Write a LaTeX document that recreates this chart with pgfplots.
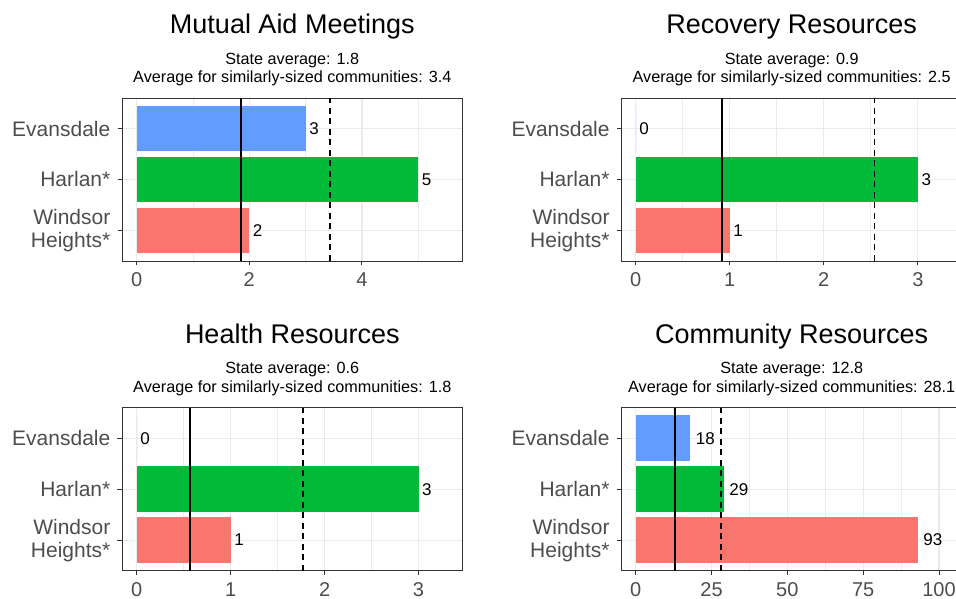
\documentclass[border=0pt]{standalone}
\usepackage{fontspec}
\setmainfont{Liberation Sans}
\usepackage{pgfplots}
\pgfplotsset{compat=1.18}
\definecolor{evc}{HTML}{619CFF}
\definecolor{hac}{HTML}{00BA38}
\definecolor{wic}{HTML}{F8766D}
\definecolor{grey30}{HTML}{4D4D4D}
\definecolor{grey20}{HTML}{333333}
\definecolor{gridc}{HTML}{EBEBEB}
\pgfplotsset{
  panel/.style={
    scale only axis, width=340.7pt, height=163pt,
    ymin=0.4, ymax=3.6, ytick={1,2,3},
    yticklabels={{Windsor\\Heights*},{Harlan*},{Evansdale}},
    tick pos=left, tick align=outside,
    major tick length=4.5pt, minor tick length=0pt,
    tick style={grey20, line width=0.9pt},
    axis line style={grey20, line width=0.9pt},
    xmajorgrids, ymajorgrids, xminorgrids,
    major grid style={gridc, line width=1.2pt},
    minor grid style={gridc, line width=0.7pt},
    /pgf/number format/assume math mode=true,
    xticklabel style={font=\fontsize{20}{24}\selectfont, text=grey30, inner sep=0pt, yshift=-7pt},
    yticklabel style={font=\fontsize{21}{23}\selectfont, text=grey30, align=right, inner sep=0pt, xshift=-7pt},
  },
  barp/.style={xbar, bar width=0.9, bar shift=0pt, draw=none, fill=#1,
    nodes near coords, point meta=x,
    every node near coord/.style={font=\fontsize{17}{20}\selectfont, text=black, anchor=west, inner sep=0pt, xshift=\lblshift}},
  avgline/.style={black, line width=1.8pt, no marks, forget plot},
  simline/.style={black, line width=1.8pt, no marks, forget plot, dash pattern=on 6pt off 4.5pt},
}
\newcommand{\lblshift}{3.5pt}
\begin{document}
\begin{tikzpicture}
\useasboundingbox (0,0) rectangle (956pt,599pt);
% Panel 1
\begin{axis}[panel, at={(122pt,338pt)}, anchor=south west,
  xmin=-0.26, xmax=5.79, xtick={0,2,4}, minor xtick={1,3,5}]
\addplot[barp=evc] coordinates {(3,3)};
\addplot[barp=hac] coordinates {(5,2)};
\addplot[barp=wic] coordinates {(2,1)};
\addplot[avgline] coordinates {(1.85,0.4) (1.85,3.6)};
\addplot[simline] coordinates {(3.43,0.4) (3.43,3.6)};
\end{axis}
% Panel 2
\begin{axis}[panel, at={(621.3pt,338pt)}, anchor=south west,
  xmin=-0.153, xmax=3.47, xtick={0,1,2,3}, minor xtick={0.5,1.5,2.5}]
\addplot[barp=evc] coordinates {(0,3)};
\addplot[barp=hac] coordinates {(3,2)};
\addplot[barp=wic] coordinates {(1,1)};
\addplot[avgline] coordinates {(0.92,0.4) (0.92,3.6)};
\addplot[simline] coordinates {(2.54,0.4) (2.54,3.6)};
\end{axis}
% Panel 3
\begin{axis}[panel, at={(122pt,28.3pt)}, anchor=south west,
  xmin=-0.156, xmax=3.47, xtick={0,1,2,3}, minor xtick={0.5,1.5,2.5}]
\addplot[barp=evc] coordinates {(0,3)};
\addplot[barp=hac] coordinates {(3,2)};
\addplot[barp=wic] coordinates {(1,1)};
\addplot[avgline] coordinates {(0.567,0.4) (0.567,3.6)};
\addplot[simline] coordinates {(1.77,0.4) (1.77,3.6)};
\end{axis}
% Panel 4
\renewcommand{\lblshift}{5.5pt}
\begin{axis}[panel, at={(621.3pt,28.3pt)}, anchor=south west,
  xmin=-4.75, xmax=107.6, xtick={0,25,50,75,100}, minor xtick={12.5,37.5,62.5,87.5}]
\addplot[barp=evc] coordinates {(18,3)};
\addplot[barp=hac] coordinates {(29,2)};
\addplot[barp=wic] coordinates {(93,1)};
\addplot[avgline] coordinates {(13.06,0.4) (13.06,3.6)};
\addplot[simline] coordinates {(28.2,0.4) (28.2,3.6)};
\end{axis}
% Titles
\tikzset{ttl/.style={anchor=base, inner sep=0pt, font=\fontsize{27}{32}\selectfont},
         sub/.style={anchor=base, inner sep=0pt, font=\fontsize{16.2}{19}\selectfont}}
\node[ttl] at (292.3pt,565.7pt) {Mutual Aid Meetings};
\node[sub] at (292.3pt,534.7pt) {State average: 1.8};
\node[sub] at (292.3pt,516.3pt) {Average for similarly-sized communities: 3.4};
\node[ttl] at (791.7pt,565.7pt) {Recovery Resources};
\node[sub] at (791.7pt,534.7pt) {State average: 0.9};
\node[sub] at (791.7pt,516.3pt) {Average for similarly-sized communities: 2.5};
\node[ttl] at (292.3pt,255.7pt) {Health Resources};
\node[sub] at (292.3pt,225pt) {State average: 0.6};
\node[sub] at (292.3pt,206.7pt) {Average for similarly-sized communities: 1.8};
\node[ttl] at (791.7pt,255.7pt) {Community Resources};
\node[sub] at (791.7pt,225pt) {State average: 12.8};
\node[sub] at (791.7pt,206.7pt) {Average for similarly-sized communities: 28.1};
\end{tikzpicture}
\end{document}
